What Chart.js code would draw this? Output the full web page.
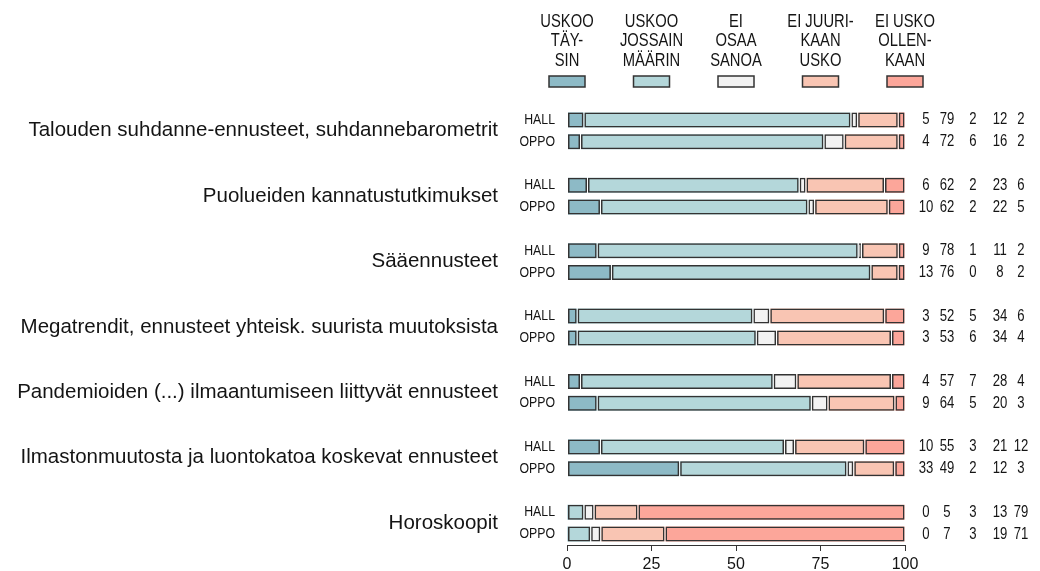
<!DOCTYPE html>
<html>
<head>
<meta charset="utf-8">
<script src="https://cdn.jsdelivr.net/npm/chart.js@4.4.0/dist/chart.umd.min.js"></script>
<style>
  html, body { margin: 0; padding: 0; background: #fff; }
  #wrap { width: 1040px; height: 571px; }
</style>
</head>
<body>
<div id="wrap"><canvas id="chart"></canvas></div>
<script>
const topics = [
  "Talouden suhdanne-ennusteet, suhdannebarometrit",
  "Puolueiden kannatustutkimukset",
  "Sääennusteet",
  "Megatrendit, ennusteet yhteisk. suurista muutoksista",
  "Pandemioiden (...) ilmaantumiseen liittyvät ennusteet",
  "Ilmastonmuutosta ja luontokatoa koskevat ennusteet",
  "Horoskoopit"
];
const groups = ["HALL", "OPPO"];
const answers = [
  ["USKOO", "TÄY-", "SIN"],
  ["USKOO", "JOSSAIN", "MÄÄRIN"],
  ["EI", "OSAA", "SANOA"],
  ["EI JUURI-", "KAAN", "USKO"],
  ["EI USKO", "OLLEN-", "KAAN"]
];
const answerColors = ["#8dbac6", "#b4d7da", "#f2f2f2", "#f9c5b3", "#fca69a"];

// % per answer, in the order of answers
const hallValues = [
  [5, 79, 2, 12, 2],
  [6, 62, 2, 23, 6],
  [9, 78, 1, 11, 2],
  [3, 52, 5, 34, 6],
  [4, 57, 7, 28, 4],
  [10, 55, 3, 21, 12],
  [0, 5, 3, 13, 79]
];
const oppoValues = [
  [4, 72, 6, 16, 2],
  [10, 62, 2, 22, 5],
  [13, 76, 0, 8, 2],
  [3, 53, 6, 34, 4],
  [9, 64, 5, 20, 3],
  [33, 49, 2, 12, 3],
  [0, 7, 3, 19, 71]
];
const xTicks = [0, 25, 50, 75, 100];

const regular = '"Liberation Sans", Arial, sans-serif';
const ink = "#141414";
const edge = "#333333";

// bar rows with an empty slot between topics
const labels = [];
const rows = [];
topics.forEach((t, i) => {
  if (i > 0) { labels.push(""); rows.push(null); }
  labels.push(groups[0]); rows.push(hallValues[i]);
  labels.push(groups[1]); rows.push(oppoValues[i]);
});

const datasets = [];
answers.forEach((a, k) => {
  const data = rows.map(r => r ? r[k] / r.reduce((s, v) => s + v, 0) * 100 : null);
  // fill
  datasets.push({
    label: a.join(" "),
    data: data,
    backgroundColor: answerColors[k],
    borderWidth: 0,
    inflateAmount: -0.5,
    stack: "fill",
    order: 1,
    grouped: false,
    barThickness: 16
  });
  // outline on top, leaves a thin white gap between segments
  datasets.push({
    label: a.join(" ") + " reuna",
    data: data,
    backgroundColor: "rgba(0,0,0,0)",
    borderColor: edge,
    borderWidth: 2.5,
    borderSkipped: false,
    inflateAmount: -0.5,
    stack: "line",
    order: 0,
    grouped: false,
    barThickness: 16
  });
});

const numberOffsets = [21, 42, 68, 95, 116];

// no narrow face installed, so squeeze Liberation Sans
function narrowText(ctx, text, x, y, size, align) {
  ctx.save();
  ctx.font = size + "px " + regular;
  ctx.textAlign = align;
  ctx.textBaseline = "middle";
  ctx.translate(x, y);
  ctx.scale(0.82, 1);
  ctx.fillText(text, 0, 0);
  ctx.restore();
}

const textPlugin = {
  id: "texts",
  afterDraw(chart) {
    const { ctx, chartArea, scales } = chart;
    const y = scales.y;
    ctx.save();
    ctx.fillStyle = ink;

    // legend
    const step = (chartArea.right - chartArea.left) / (answers.length - 1);
    answers.forEach((lines, k) => {
      const cx = chartArea.left + k * step;
      ctx.fillStyle = ink;
      lines.forEach((t, j) => narrowText(ctx, t, cx, 22 + j * 19.5, 18, "center"));
      ctx.fillStyle = answerColors[k];
      ctx.fillRect(cx - 18, 76, 36, 11);
      ctx.strokeStyle = edge;
      ctx.lineWidth = 1.5;
      ctx.strokeRect(cx - 18, 76, 36, 11);
    });

    // topic labels
    ctx.fillStyle = ink;
    ctx.font = "20.5px " + regular;
    ctx.textAlign = "right";
    ctx.textBaseline = "middle";
    topics.forEach((t, i) => {
      const yy = (y.getPixelForValue(i * 3) + y.getPixelForValue(i * 3 + 1)) / 2;
      ctx.fillText(t, chartArea.left - 69, yy);
    });

    // HALL / OPPO and numbers on the right
    rows.forEach((r, idx) => {
      if (!r) return;
      const yy = y.getPixelForValue(idx);
      narrowText(ctx, labels[idx], chartArea.left - 12, yy, 15, "right");
      r.forEach((v, k) => narrowText(ctx, String(v), chartArea.right + numberOffsets[k], yy, 16, "center"));
    });

    ctx.restore();
  }
};

new Chart(document.getElementById("chart"), {
  type: "bar",
  data: { labels: labels, datasets: datasets },
  options: {
    indexAxis: "y",
    responsive: true,
    maintainAspectRatio: false,
    animation: false,
    layout: { padding: { top: 109, right: 135, bottom: 0, left: 0 } },
    plugins: {
      legend: { display: false },
      tooltip: { enabled: false }
    },
    scales: {
      x: {
        type: "linear",
        stacked: true,
        min: 0,
        max: 100,
        afterBuildTicks(scale) { scale.ticks = xTicks.map(v => ({ value: v })); },
        afterFit(scale) { scale.height = 26; },
        grid: { drawOnChartArea: false, drawTicks: true, tickLength: 6, color: edge },
        border: { display: true, color: edge, width: 1 },
        ticks: { font: { family: regular, size: 16 }, color: ink, padding: 4, maxRotation: 0 }
      },
      y: {
        type: "category",
        afterFit(scale) { scale.width = 567; },
        grid: { display: false },
        border: { display: false },
        ticks: { display: false, autoSkip: false }
      }
    }
  },
  plugins: [textPlugin]
});
</script>
</body>
</html>
